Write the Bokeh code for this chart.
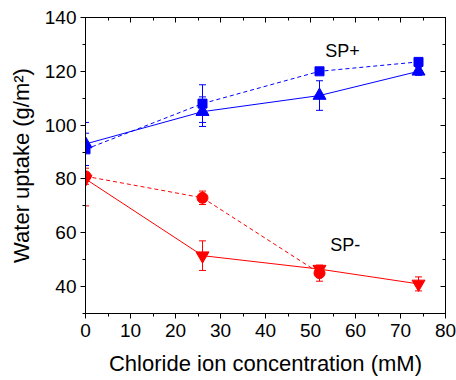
from bokeh.plotting import figure
from bokeh.models import (ColumnDataSource, Whisker, LinearAxis, Range1d, FixedTicker, Label,
                          CustomJSTickFormatter)
from bokeh.embed import file_html
from bokeh.resources import INLINE

x = [0, 26, 52, 74]
sp_plus_sq = [91, 108, 120, 123.5]
sp_plus_sq_err = [6, 7, 1, 1]
sp_plus_tri = [93, 105, 111, 120]
sp_plus_tri_err = [8, 5.5, 5.5, 1.5]

x_circ = [0, 26, 52]
sp_minus_circ = [81, 73, 45]
sp_minus_circ_err = [3, 2.5, 3]
sp_minus_tri = [80, 51.5, 46.5, 41]
sp_minus_tri_err = [10, 5.5, 1, 2.6]

x_ticks = [0, 10, 20, 30, 40, 50, 60, 70, 80]
y_ticks = [40, 60, 80, 100, 120, 140]
x_minor = [0, 5, 10, 15, 20, 25, 30, 35, 40, 45, 50, 55, 60, 65, 70, 75, 80]
y_minor = [30, 40, 50, 60, 70, 80, 90, 100, 110, 120, 130, 140]

BLUE = "#0000FF"
RED = "#FF0000"
FONT = "Liberation Sans"

p = figure(width=456, height=380, output_backend="svg", toolbar_location=None,
           x_range=Range1d(0, 80), y_range=Range1d(30, 140),
           min_border_left=85, min_border_right=11, min_border_top=17, min_border_bottom=67)
p.grid.visible = False
p.outline_line_color = "black"
p.outline_line_width = 1
p.background_fill_color = "white"
p.border_fill_color = "white"

def style_axis(ax, labels=True, inward=False):
    ax.axis_line_color = "black"
    ax.major_tick_line_color = "black"
    ax.minor_tick_line_color = "black"
    if inward:
        ax.major_tick_in = 5
        ax.major_tick_out = 0
        ax.minor_tick_in = 3
        ax.minor_tick_out = 0
    else:
        ax.major_tick_in = 0
        ax.major_tick_out = 5
        ax.minor_tick_in = 0
        ax.minor_tick_out = 3
    if labels:
        ax.major_label_text_font = FONT
        ax.major_label_text_font_size = "19px"
        ax.major_label_text_color = "black"
        ax.axis_label_text_font = FONT
        ax.axis_label_text_font_size = "22px"
        ax.axis_label_text_font_style = "normal"
        ax.axis_label_text_color = "black"
    else:
        ax.formatter = CustomJSTickFormatter(code="return ''")
        ax.major_label_text_font_size = "1px"
        ax.major_label_standoff = 0

p.xaxis.ticker = FixedTicker(ticks=x_ticks, minor_ticks=x_minor)
p.yaxis.ticker = FixedTicker(ticks=y_ticks, minor_ticks=y_minor)
p.xaxis.axis_label = "Chloride ion concentration (mM)"
p.yaxis.axis_label = "Water uptake (g/m²)"
p.xaxis.major_label_standoff = 5
p.yaxis.major_label_standoff = 4
p.xaxis.axis_label_standoff = 11
p.yaxis.axis_label_standoff = 8
style_axis(p.xaxis[0])
style_axis(p.yaxis[0])

top = LinearAxis(ticker=FixedTicker(ticks=x_ticks, minor_ticks=x_minor))
right = LinearAxis(ticker=FixedTicker(ticks=y_ticks, minor_ticks=y_minor))
style_axis(top, labels=False, inward=True)
style_axis(right, labels=False, inward=True)
p.add_layout(top, "above")
p.add_layout(right, "right")

def src_of(xs, ys, es):
    return ColumnDataSource(dict(x=xs, y=ys,
                                 lo=[a - b for a, b in zip(ys, es)],
                                 hi=[a + b for a, b in zip(ys, es)]))

src_sq = src_of(x, sp_plus_sq, sp_plus_sq_err)
src_tri = src_of(x, sp_plus_tri, sp_plus_tri_err)
src_circ = src_of(x_circ, sp_minus_circ, sp_minus_circ_err)
src_itri = src_of(x, sp_minus_tri, sp_minus_tri_err)

for src, col in [(src_sq, BLUE), (src_tri, BLUE), (src_circ, RED), (src_itri, RED)]:
    w = Whisker(source=src, base="x", lower="lo", upper="hi", line_color=col, line_width=1)
    w.upper_head.size = 7
    w.lower_head.size = 7
    w.upper_head.line_color = col
    w.lower_head.line_color = col
    p.add_layout(w)

p.line("x", "y", source=src_sq, line_color=BLUE, line_width=1, line_dash="4 3")
p.line("x", "y", source=src_tri, line_color=BLUE, line_width=1)
p.line("x", "y", source=src_circ, line_color=RED, line_width=1, line_dash="4 3")
p.line("x", "y", source=src_itri, line_color=RED, line_width=1)

p.scatter("x", "y", source=src_sq, marker="square", size=9, color=BLUE)
p.scatter("x", "y", source=src_tri, marker="triangle", size=13, color=BLUE)
p.scatter("x", "y", source=src_circ, marker="circle", size=11, color=RED)
p.scatter("x", "y", source=src_itri, marker="inverted_triangle", size=13, color=RED)

p.add_layout(Label(x=53.3, y=127.5, text="SP+", text_font=FONT, text_font_size="18px",
                   text_color="black", text_baseline="middle"))
p.add_layout(Label(x=54.4, y=55.3, text="SP-", text_font=FONT, text_font_size="18px",
                   text_color="black", text_baseline="middle"))

open("out.html", "w").write(file_html(p, INLINE))
